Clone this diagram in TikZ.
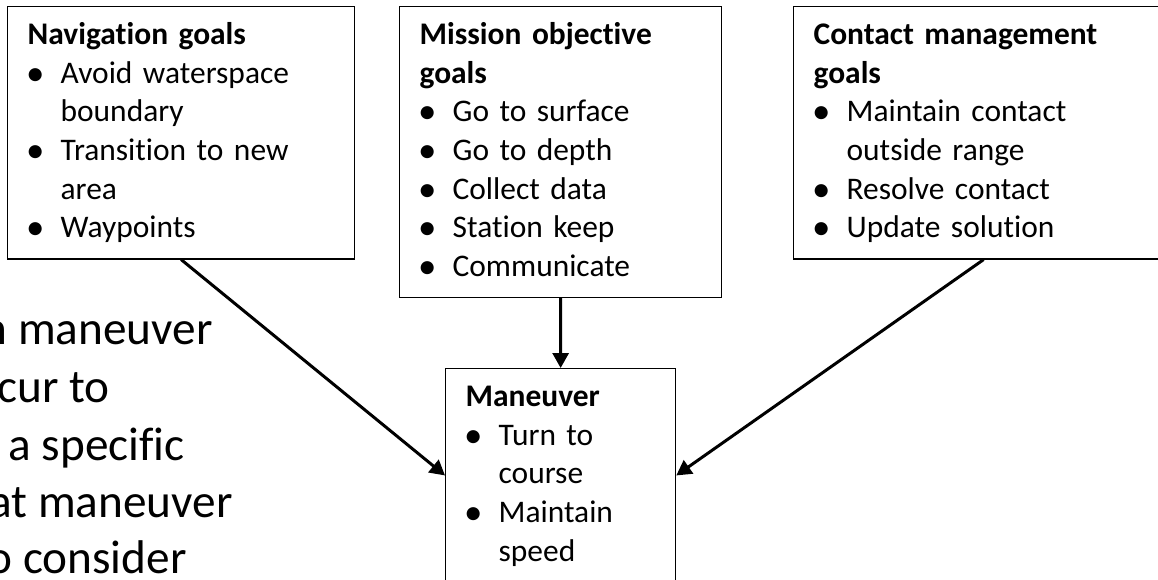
\documentclass[tikz,border=0pt]{standalone}
\usepackage{fontspec}
\setmainfont{Carlito}[Ligatures=NoCommon]
\usetikzlibrary{positioning}
\usetikzlibrary{arrows.meta}

% box text and bullets
\newcommand{\boxfont}{\fontsize{17.9pt}{22pt}\selectfont}
\newcommand{\notefont}{\fontsize{26.9pt}{32.4pt}\selectfont}
\newcommand{\itm}{\makebox[0.66cm][l]{\hspace*{-0.03cm}\raisebox{-0.04cm}{\fontsize{21pt}{22pt}\selectfont\textbullet}}}
\newcommand{\cnt}{\hspace*{0.66cm}}
\newcommand{\firstln}{\rule{0pt}{0.56cm}}
\newcommand{\lastln}{\rule[-0.22cm]{0pt}{0pt}}

\tikzset{
  goalbox/.style={draw, line width=0.75pt, align=left, anchor=north west,
    inner xsep=0.4cm, inner ysep=0.2cm, font=\boxfont},
  feed/.style={-{Triangle[length=0.3cm, width=0.32cm]}, line width=1.7pt}
}

\begin{document}
\begin{tikzpicture}[x=0.02cm, y=-0.02cm]
  \useasboundingbox (0,0) rectangle (1158,580);
  \clip (0,0) rectangle (1158,580);

  % the three goal boxes
  \node[goalbox, text width=6.14cm] (nav) at (7,6) {\firstln\textbf{Navigation goals}\\
    \itm Avoid waterspace\\ \cnt boundary\\
    \itm Transition to new\\ \cnt area\\
    \itm Waypoints\lastln};
  \node[goalbox, text width=5.64cm] (mission) at (399,6) {\firstln\textbf{Mission objective}\\
    \textbf{goals}\\
    \itm Go to surface\\
    \itm Go to depth\\
    \itm Collect data\\
    \itm Station keep\\
    \itm Communicate\lastln};
  \node[goalbox, text width=6.8cm] (contact) at (793,6) {\firstln\textbf{Contact management}\\
    \textbf{goals}\\
    \itm Maintain contact\\ \cnt outside range\\
    \itm Resolve contact\\
    \itm Update solution\lastln};

  % maneuver box
  \node[goalbox, text width=3.8cm] (maneuver) at (445,368) {\firstln\textbf{Maneuver}\\
    \itm Turn to\\ \cnt course\\
    \itm Maintain\\ \cnt speed\lastln};

  \draw[feed] (nav.south) -- (maneuver.west);
  \draw[feed] (mission.south) -- (maneuver.north);
  \draw[feed] (contact.south) -- (maneuver.east);

  % cut-off note on the left
  \foreach \txt/\xr/\yb [count=\i] in {n maneuver/213/345, cur to/110/402,
      a specific/185/460, at maneuver/233/517, o consider/187/573} {
    \node[anchor=base east, inner sep=0pt, font=\notefont] (note\i) at (\xr,\yb) {\txt};
  }
\end{tikzpicture}
\end{document}
